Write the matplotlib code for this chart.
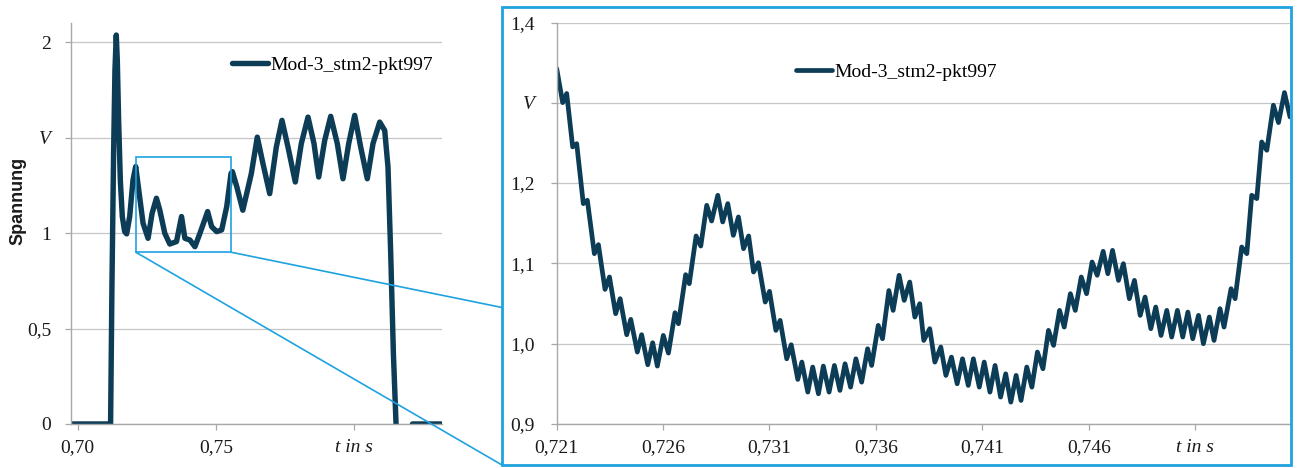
import matplotlib
matplotlib.use("Agg")
import matplotlib.pyplot as plt
from matplotlib.patches import Rectangle, ConnectionPatch

# ---------------- data ----------------
series_name = "Mod-3_stm2-pkt997"

# overview (left panel)
left_t = [0.69743, 0.71150, 0.71186, 0.71235, 0.71295, 0.71344, 0.71392,
          0.71429, 0.71477, 0.71538, 0.71610, 0.71695, 0.71768, 0.71877,
          0.71998, 0.72095, 0.72361, 0.72542, 0.72688, 0.72845, 0.72966,
          0.73148, 0.73329, 0.73572, 0.73753, 0.73874, 0.74056, 0.74237,
          0.74419, 0.74697, 0.74843, 0.75024, 0.75206, 0.75388, 0.75545,
          0.75593, 0.75751, 0.75970, 0.76277, 0.76494, 0.76700, 0.76943,
          0.77182, 0.77388, 0.77605, 0.77869, 0.78086, 0.78329, 0.78546,
          0.78716, 0.78933, 0.79150, 0.79389, 0.79595, 0.79801, 0.80018,
          0.80235, 0.80474, 0.80680, 0.80923, 0.81104, 0.81223, 0.81321,
          0.81418, 0.81514, 0.81600, 0.82050, 0.82108, 0.83166]
left_v = [0.0, 0.0, 0.0, 0.720, 1.418, 1.855, 2.038,
          1.907, 1.593, 1.279, 1.087, 1.008, 0.996, 1.087,
          1.279, 1.349, 1.052, 0.973, 1.104, 1.183, 1.121,
          0.999, 0.943, 0.956, 1.087, 0.973, 0.964, 0.929,
          0.999, 1.113, 1.034, 1.008, 1.017, 1.139, 1.314,
          1.322, 1.244, 1.120, 1.311, 1.503, 1.364, 1.207,
          1.451, 1.591, 1.451, 1.268, 1.469, 1.608, 1.469,
          1.294, 1.486, 1.612, 1.469, 1.285, 1.469, 1.617,
          1.451, 1.285, 1.469, 1.582, 1.538, 1.346, 0.894,
          0.370, 0.0, -0.05, -0.03, 0.0, 0.0]

# detail (right panel)
zoom_t = [0.72100, 0.72128, 0.72147, 0.72175, 0.72194, 0.72225, 0.72244, 0.72277,
          0.72296, 0.72327, 0.72348, 0.72377, 0.72398, 0.72429, 0.72448, 0.72479,
          0.72499, 0.72528, 0.72551, 0.72573, 0.72601, 0.72625, 0.72656, 0.72672,
          0.72706, 0.72723, 0.72755, 0.72777, 0.72805, 0.72828, 0.72857, 0.72880,
          0.72904, 0.72930, 0.72954,
          0.72978, 0.73002, 0.73025, 0.73048, 0.73080, 0.73100, 0.73130, 0.73150,
          0.73181, 0.73202, 0.73233, 0.73252, 0.73280, 0.73303, 0.73330, 0.73353,
          0.73380, 0.73405, 0.73431, 0.73455, 0.73481, 0.73506, 0.73533, 0.73561,
          0.73580, 0.73611, 0.73631, 0.73661, 0.73681, 0.73709, 0.73733, 0.73759,
          0.73783, 0.73806,
          0.73825, 0.73853, 0.73877, 0.73905, 0.73929, 0.73955, 0.73982, 0.74007,
          0.74034, 0.74058, 0.74086, 0.74109, 0.74136, 0.74160, 0.74186, 0.74210,
          0.74234, 0.74259, 0.74282, 0.74309, 0.74333, 0.74359, 0.74385, 0.74411,
          0.74435, 0.74463, 0.74485, 0.74514, 0.74537, 0.74565, 0.74590, 0.74616,
          0.74640, 0.74668, 0.74690,
          0.74712, 0.74740, 0.74763, 0.74791, 0.74815, 0.74842, 0.74865, 0.74892,
          0.74915, 0.74940, 0.74967, 0.74990, 0.75017, 0.75042, 0.75066, 0.75089,
          0.75116, 0.75139, 0.75167, 0.75189, 0.75217, 0.75236, 0.75269, 0.75288,
          0.75319, 0.75343, 0.75366, 0.75390, 0.75413, 0.75437, 0.75468, 0.75492,
          0.75520, 0.75546]
zoom_v = [1.3426, 1.3002, 1.3115, 1.2450, 1.2490, 1.1743, 1.1785, 1.1120,
          1.1232, 1.0675, 1.0829, 1.0372, 1.0559, 1.0110, 1.0301, 0.9894,
          1.0110, 0.9736, 1.0010, 0.9719, 1.0101, 0.9881, 1.0384, 1.0247,
          1.0858, 1.0746, 1.1340, 1.1215, 1.1722, 1.1527, 1.1847, 1.1515,
          1.1743, 1.1348, 1.1577,
          1.1182, 1.1340, 1.0891, 1.1007, 1.0517, 1.0650, 1.0164, 1.0288,
          0.9810, 0.9985, 0.9553, 0.9769, 0.9395, 0.9707, 0.9374, 0.9719,
          0.9395, 0.9727, 0.9416, 0.9748, 0.9457, 0.9810, 0.9519, 0.9935,
          0.9727, 1.0226, 1.0060, 1.0660, 1.0413, 1.0850, 1.0538, 1.0766,
          1.0330, 1.0496,
          1.0039, 1.0185, 0.9769, 0.9956, 0.9603, 0.9831, 0.9499, 0.9810,
          0.9478, 0.9810, 0.9457, 0.9769, 0.9395, 0.9727, 0.9333, 0.9623,
          0.9270, 0.9603, 0.9291, 0.9707, 0.9457, 0.9894, 0.9686, 1.0164,
          0.9977, 1.0413, 1.0205, 1.0621, 1.0413, 1.0829, 1.0621, 1.1016,
          1.0850, 1.1149, 1.0870,
          1.1161, 1.0787, 1.0995, 1.0559, 1.0787, 1.0351, 1.0579, 1.0185,
          1.0455, 1.0101, 1.0413, 1.0081, 1.0413, 1.0081, 1.0392, 1.0060,
          1.0351, 0.9998, 1.0330, 1.0039, 1.0434, 1.0205, 1.0683, 1.0559,
          1.1203, 1.1120, 1.1847, 1.1806, 1.2512, 1.2408, 1.2969, 1.2753,
          1.3127, 1.2824]

left_xticks = [0.70, 0.75, 0.80]
left_xlabels = ["0,70", "0,75", "t in s"]
left_yticks = [0, 0.5, 1, 1.5, 2]
left_ylabels = ["0", "0,5", "1", "V", "2"]

zoom_xticks = [0.721, 0.726, 0.731, 0.736, 0.741, 0.746, 0.751]
zoom_xlabels = ["0,721", "0,726", "0,731", "0,736", "0,741", "0,746", "t in s"]
zoom_yticks = [0.9, 1.0, 1.1, 1.2, 1.3, 1.4]
zoom_ylabels = ["0,9", "1,0", "1,1", "1,2", "V", "1,4"]

# ---------------- styling ----------------
W, H = 1301, 468
LINE = "#0c3c56"
CYAN = "#1ea2e0"
GRID = "#c6c6c6"
SPINE = "#a8a8a8"
TXT = "#1a1a1a"
SERIF = "Liberation Serif"
FS = 14

fig = plt.figure(figsize=(W / 100, H / 100), dpi=100)


def fx(px):
    return px / W


def fy(py):
    return 1 - py / H


def style_axes(ax, xt, xl, yt, yl, ypad):
    ax.set_yticks(yt, labels=yl)
    ax.set_xticks(xt, labels=xl)
    for s in ("top", "right"):
        ax.spines[s].set_visible(False)
    for s in ("left", "bottom"):
        ax.spines[s].set_color(SPINE)
        ax.spines[s].set_linewidth(1.0)
    ax.grid(axis="y", color=GRID, linewidth=0.9)
    ax.set_axisbelow(True)
    ax.tick_params(axis="both", colors=SPINE, length=4, width=0.9,
                   labelcolor=TXT, labelsize=FS)
    ax.tick_params(axis="y", pad=ypad)
    ax.tick_params(axis="x", pad=7)
    for lab in ax.get_yticklabels() + ax.get_xticklabels():
        lab.set_fontfamily(SERIF)
        if lab.get_text() in ("V", "t in s"):
            lab.set_fontstyle("italic")


# left overview axes
ax1 = fig.add_axes([fx(70.7), fy(424), fx(441.7) - fx(70.7), fy(23.3) - fy(424)])
ax1.plot(left_t, left_v, color=LINE, lw=3.9, solid_joinstyle="round",
         solid_capstyle="round", label=series_name)
ax1.set_xlim(0.69743, 0.83166)
ax1.set_ylim(0, 2.0995)
style_axes(ax1, left_xticks, left_xlabels, left_yticks, left_ylabels, 10)

# right detail axes
ax2 = fig.add_axes([fx(556.7), fy(423.8), fx(1290) - fx(556.7), fy(22.5) - fy(423.8)])
ax2.plot(zoom_t, zoom_v, color=LINE, lw=3.4, solid_joinstyle="round",
         solid_capstyle="round", label=series_name)
ax2.set_xlim(zoom_t[0], zoom_t[-1])
ax2.set_ylim(0.9, 1.4)
style_axes(ax2, zoom_xticks, zoom_xlabels, zoom_yticks, zoom_ylabels, 12)

# legends
for ax, (lx, ly) in ((ax1, (232, 65)), (ax2, (796, 72))):
    ax.legend(loc="center left", bbox_to_anchor=(fx(lx), fy(ly)),
              bbox_transform=fig.transFigure, frameon=False, borderpad=0,
              borderaxespad=0, handlelength=1.85, handletextpad=0.15,
              prop={"family": SERIF, "size": FS})

# y label
fig.text(fx(18), fy(201), "Spannung", rotation=90, ha="center", va="center",
         fontsize=13, fontweight="bold", family="Liberation Sans", color=TXT)

# zoom box in left panel
x0, x1 = zoom_t[0], zoom_t[-1]
y0, y1 = 0.9, 1.4
ax1.add_patch(Rectangle((x0, y0), x1 - x0, y1 - y0, fill=False,
                        edgecolor=CYAN, lw=1.2, clip_on=False, zorder=5))

# frame around right panel
fig.add_artist(Rectangle((fx(502), fy(465)), fx(1291) - fx(502), fy(7) - fy(465),
                         transform=fig.transFigure, fill=False,
                         edgecolor=CYAN, lw=2.0))

# connector lines
for xa, yb in ((x0, 465), (x1, 307.5)):
    con = ConnectionPatch(xyA=(xa, y0), coordsA=ax1.transData,
                          xyB=(fx(502), fy(yb)), coordsB="figure fraction",
                          color=CYAN, lw=1.2)
    fig.add_artist(con)

fig.savefig("out.png", dpi=100)
